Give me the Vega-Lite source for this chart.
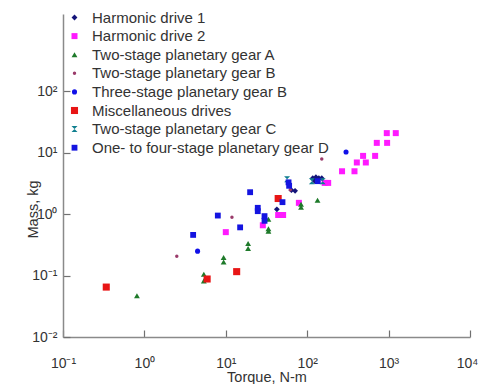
{
  "$schema": "https://vega.github.io/schema/vega-lite/v6.json",
  "width": 407,
  "height": 323,
  "autosize": {"type": "none"},
  "padding": {"left": 63, "top": 14, "right": 10, "bottom": 47},
  "background": "white",
  "config": {
    "view": {"stroke": null},
    "axis": {
      "domainColor": "#8a8a8a", "domainWidth": 1.5,
      "tickColor": "#707070", "tickSize": -7, "tickWidth": 1.2,
      "grid": false,
      "labelFont": "Liberation Sans", "labelFontSize": 14, "labelColor": "#333333",
      "titleFont": "Liberation Sans", "titleFontSize": 14.5, "titleFontWeight": "normal", "titleColor": "#333333"
    },
    "legend": {
      "labelFont": "Liberation Sans", "labelFontSize": 15, "labelColor": "#333333", "labelLimit": 0
    }
  },
  "data": {
    "values": [
      {"series": "Harmonic drive 1", "torque": 42.4, "mass": 1.2},
      {"series": "Harmonic drive 1", "torque": 64, "mass": 2.46},
      {"series": "Harmonic drive 1", "torque": 71, "mass": 2.4},
      {"series": "Harmonic drive 1", "torque": 117, "mass": 3.86},
      {"series": "Harmonic drive 1", "torque": 128, "mass": 4.0},
      {"series": "Harmonic drive 1", "torque": 139, "mass": 3.86},
      {"series": "Harmonic drive 1", "torque": 151, "mass": 3.86},
      {"series": "Harmonic drive 1", "torque": 124, "mass": 3.45},
      {"series": "Harmonic drive 2", "torque": 10, "mass": 0.51},
      {"series": "Harmonic drive 2", "torque": 28.5, "mass": 0.66},
      {"series": "Harmonic drive 2", "torque": 44, "mass": 0.97},
      {"series": "Harmonic drive 2", "torque": 50.6, "mass": 0.97},
      {"series": "Harmonic drive 2", "torque": 79, "mass": 1.53},
      {"series": "Harmonic drive 2", "torque": 164, "mass": 3.23},
      {"series": "Harmonic drive 2", "torque": 181, "mass": 3.23},
      {"series": "Harmonic drive 2", "torque": 268, "mass": 5.0},
      {"series": "Harmonic drive 2", "torque": 381, "mass": 5.0},
      {"series": "Harmonic drive 2", "torque": 407, "mass": 6.95},
      {"series": "Harmonic drive 2", "torque": 525, "mass": 6.95},
      {"series": "Harmonic drive 2", "torque": 486, "mass": 8.9},
      {"series": "Harmonic drive 2", "torque": 683, "mass": 8.9},
      {"series": "Harmonic drive 2", "torque": 716, "mass": 14.5},
      {"series": "Harmonic drive 2", "torque": 959, "mass": 14.5},
      {"series": "Harmonic drive 2", "torque": 950, "mass": 20.9},
      {"series": "Harmonic drive 2", "torque": 1225, "mass": 20.9},
      {"series": "Two-stage planetary gear A", "torque": 0.81, "mass": 0.047},
      {"series": "Two-stage planetary gear A", "torque": 5.37, "mass": 0.105},
      {"series": "Two-stage planetary gear A", "torque": 5.37, "mass": 0.082},
      {"series": "Two-stage planetary gear A", "torque": 9.4, "mass": 0.197},
      {"series": "Two-stage planetary gear A", "torque": 9.4, "mass": 0.166},
      {"series": "Two-stage planetary gear A", "torque": 18.8, "mass": 0.333},
      {"series": "Two-stage planetary gear A", "torque": 18.8, "mass": 0.276},
      {"series": "Two-stage planetary gear A", "torque": 33.4, "mass": 0.83},
      {"series": "Two-stage planetary gear A", "torque": 33.4, "mass": 0.58},
      {"series": "Two-stage planetary gear A", "torque": 33.4, "mass": 0.53},
      {"series": "Two-stage planetary gear A", "torque": 84, "mass": 1.45},
      {"series": "Two-stage planetary gear A", "torque": 84, "mass": 1.3},
      {"series": "Two-stage planetary gear A", "torque": 134, "mass": 1.69},
      {"series": "Two-stage planetary gear B", "torque": 2.5, "mass": 0.207},
      {"series": "Two-stage planetary gear B", "torque": 11.9, "mass": 0.89},
      {"series": "Two-stage planetary gear B", "torque": 62, "mass": 2.5},
      {"series": "Two-stage planetary gear B", "torque": 151, "mass": 7.9},
      {"series": "Three-stage planetary gear B", "torque": 4.5, "mass": 0.25},
      {"series": "Three-stage planetary gear B", "torque": 300, "mass": 10.3},
      {"series": "Miscellaneous drives", "torque": 0.34, "mass": 0.065},
      {"series": "Miscellaneous drives", "torque": 5.9, "mass": 0.088},
      {"series": "Miscellaneous drives", "torque": 13.6, "mass": 0.116},
      {"series": "Miscellaneous drives", "torque": 44, "mass": 1.8},
      {"series": "Two-stage planetary gear C", "torque": 56.6, "mass": 3.7},
      {"series": "Two-stage planetary gear C", "torque": 114, "mass": 3.45},
      {"series": "Two-stage planetary gear C", "torque": 155, "mass": 3.45},
      {"series": "One- to four-stage planetary gear D", "torque": 3.97, "mass": 0.46},
      {"series": "One- to four-stage planetary gear D", "torque": 7.98, "mass": 0.95},
      {"series": "One- to four-stage planetary gear D", "torque": 15, "mass": 0.61},
      {"series": "One- to four-stage planetary gear D", "torque": 19.9, "mass": 2.28},
      {"series": "One- to four-stage planetary gear D", "torque": 24.7, "mass": 1.27},
      {"series": "One- to four-stage planetary gear D", "torque": 24.7, "mass": 1.12},
      {"series": "One- to four-stage planetary gear D", "torque": 29.9, "mass": 0.93},
      {"series": "One- to four-stage planetary gear D", "torque": 29.9, "mass": 0.78},
      {"series": "One- to four-stage planetary gear D", "torque": 49.7, "mass": 1.57},
      {"series": "One- to four-stage planetary gear D", "torque": 59, "mass": 3.3},
      {"series": "One- to four-stage planetary gear D", "torque": 60, "mass": 2.9},
      {"series": "One- to four-stage planetary gear D", "torque": 135, "mass": 3.45}
    ]
  },
  "mark": {"type": "point", "filled": true, "opacity": 1},
  "encoding": {
    "x": {
      "field": "torque", "type": "quantitative", "title": "Torque, N-m",
      "scale": {"type": "log", "domain": [0.1, 10000], "nice": false},
      "axis": {
        "values": [0.1, 1, 10, 100, 1000, 10000],
        "labelPadding": 26, "labelFlush": false,
        "titleY": 44, "titleBaseline": "alphabetic",
        "labelOffset": {"condition": {"test": "datum.value >= 5000", "value": -3}, "value": 0},
        "labelExpr": "datum.value < 0.5 ? '10⁻¹' : datum.value < 5 ? '10⁰' : datum.value < 50 ? '10¹' : datum.value < 500 ? '10²' : datum.value < 5000 ? '10³' : '10⁴'"
      }
    },
    "y": {
      "field": "mass", "type": "quantitative", "title": "Mass, kg",
      "scale": {"type": "log", "domain": [0.01, 1820], "nice": false},
      "axis": {
        "values": [0.01, 0.1, 1, 10, 100],
        "labelPadding": 13, "labelFlush": false,
        "titleX": -30, "titleY": 195, "titleBaseline": "middle",
        "labelExpr": "datum.value < 0.05 ? '10⁻²' : datum.value < 0.5 ? '10⁻¹' : datum.value < 5 ? '10⁰' : datum.value < 50 ? '10¹' : '10²'"
      }
    },
    "color": {
      "field": "series", "type": "nominal", "title": null,
      "scale": {
        "domain": ["Harmonic drive 1", "Harmonic drive 2", "Two-stage planetary gear A", "Two-stage planetary gear B", "Three-stage planetary gear B", "Miscellaneous drives", "Two-stage planetary gear C", "One- to four-stage planetary gear D"],
        "range": ["#14147a", "#ff1aff", "#1e7a2a", "#9a3a6a", "#1010e8", "#e81515", "#0f7f8f", "#1414e0"]
      },
      "legend": {
        "orient": "none", "legendX": 4, "legendY": -4,
        "rowPadding": 2.6, "labelOffset": 10, "symbolStrokeWidth": 0, "labelLimit": 0
      }
    },
    "shape": {
      "field": "series", "type": "nominal", "title": null,
      "scale": {
        "domain": ["Harmonic drive 1", "Harmonic drive 2", "Two-stage planetary gear A", "Two-stage planetary gear B", "Three-stage planetary gear B", "Miscellaneous drives", "Two-stage planetary gear C", "One- to four-stage planetary gear D"],
        "range": ["diamond", "square", "triangle-up", "circle", "circle", "square", "M-1,-1L1,-1L-1,1L1,1Z", "square"]
      }
    },
    "size": {
      "field": "series", "type": "nominal", "title": null,
      "scale": {
        "type": "ordinal",
        "domain": ["Harmonic drive 1", "Harmonic drive 2", "Two-stage planetary gear A", "Two-stage planetary gear B", "Three-stage planetary gear B", "Miscellaneous drives", "Two-stage planetary gear C", "One- to four-stage planetary gear D"],
        "range": [34, 36, 34, 12, 26, 50, 36, 34]
      }
    }
  }
}
